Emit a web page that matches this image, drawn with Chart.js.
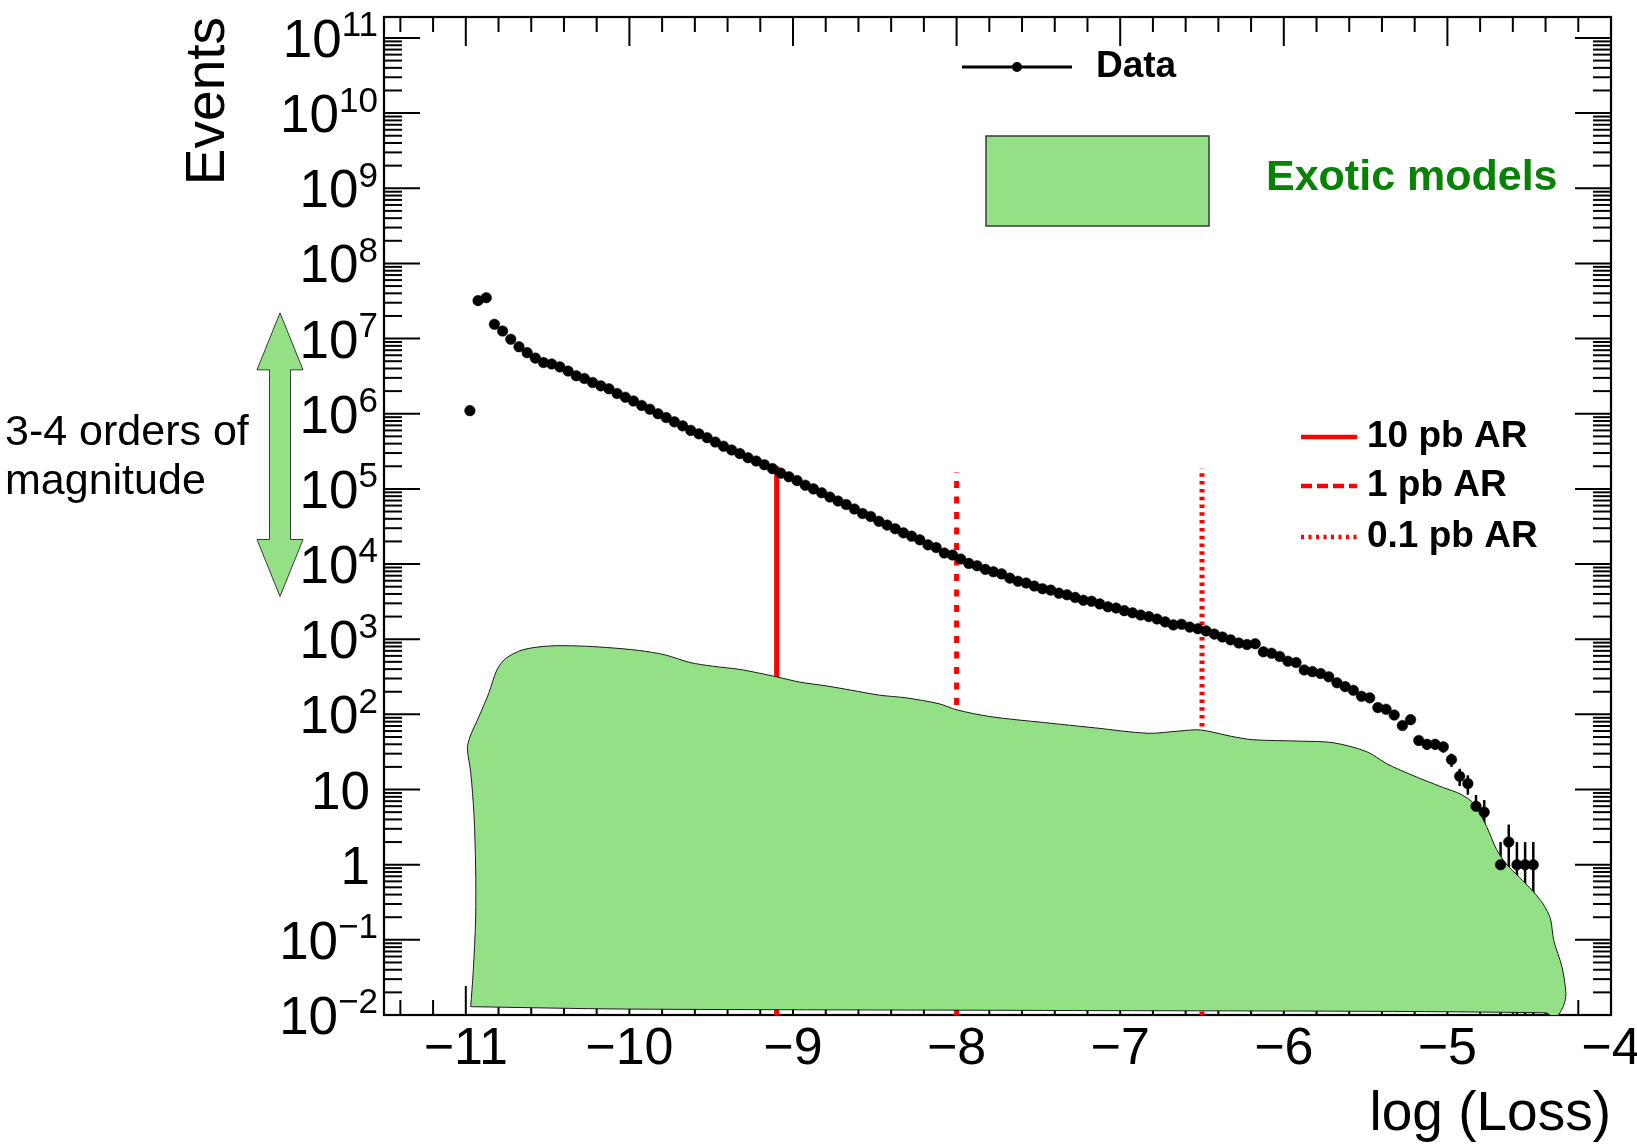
<!DOCTYPE html>
<html>
<head>
<meta charset="utf-8">
<title>Events vs log(Loss)</title>
<script src="https://cdn.jsdelivr.net/npm/chart.js@4.4.1/dist/chart.umd.min.js"></script>
<style>
  html, body { margin: 0; padding: 0; background: #fff; }
  #wrap { width: 1637px; height: 1144px; }
</style>
</head>
<body>
<div id="wrap"><canvas id="lossChart" width="1637" height="1144"></canvas></div>
<script>
// log(Loss) bin centres (bins of 0.05)
const binCenters = [
  -10.975, -10.925, -10.875, -10.825, -10.775, -10.725, -10.675, -10.625, -10.575, -10.525,
  -10.475, -10.425, -10.375, -10.325, -10.275, -10.225, -10.175, -10.125, -10.075, -10.025,
  -9.975, -9.925, -9.875, -9.825, -9.775, -9.725, -9.675, -9.625, -9.575, -9.525,
  -9.475, -9.425, -9.375, -9.325, -9.275, -9.225, -9.175, -9.125, -9.075, -9.025,
  -8.975, -8.925, -8.875, -8.825, -8.775, -8.725, -8.675, -8.625, -8.575, -8.525,
  -8.475, -8.425, -8.375, -8.325, -8.275, -8.225, -8.175, -8.125, -8.075, -8.025,
  -7.975, -7.925, -7.875, -7.825, -7.775, -7.725, -7.675, -7.625, -7.575, -7.525,
  -7.475, -7.425, -7.375, -7.325, -7.275, -7.225, -7.175, -7.125, -7.075, -7.025,
  -6.975, -6.925, -6.875, -6.825, -6.775, -6.725, -6.675, -6.625, -6.575, -6.525,
  -6.475, -6.425, -6.375, -6.325, -6.275, -6.225, -6.175, -6.125, -6.075, -6.025,
  -5.975, -5.925, -5.875, -5.825, -5.775, -5.725, -5.675, -5.625, -5.575, -5.525,
  -5.475, -5.425, -5.375, -5.325, -5.275, -5.225, -5.175, -5.125, -5.075, -5.025,
  -4.975, -4.925, -4.875, -4.825, -4.775, -4.725, -4.675, -4.625, -4.575, -4.525,
  -4.475
];

// Data events per bin
const dataEvents = [
  1.1e6, 3.2e7, 3.5e7, 1.55e7, 1.26e7, 9.8e6, 7.8e6, 6.5e6, 5.5e6, 4.8e6,
  4.6e6, 4.2e6, 3.7e6, 3.2e6, 2.95e6, 2.6e6, 2.35e6, 2.15e6, 1.86e6, 1.66e6,
  1.48e6, 1.29e6, 1.15e6, 1.0e6, 8.9e5, 7.8e5, 6.9e5, 6.0e5, 5.4e5, 4.8e5,
  4.2e5, 3.7e5, 3.3e5, 2.95e5, 2.6e5, 2.35e5, 2.1e5, 1.86e5, 1.62e5, 1.45e5,
  1.29e5, 1.12e5, 1.0e5, 8.9e4, 7.8e4, 6.9e4, 6.2e4, 5.4e4, 4.7e4, 4.3e4,
  3.7e4, 3.3e4, 2.95e4, 2.6e4, 2.35e4, 2.1e4, 1.8e4, 1.66e4, 1.4e4, 1.32e4,
  1.17e4, 1.02e4, 9500, 8500, 7900, 7400, 6500, 5900, 5600, 5100,
  4700, 4500, 4100, 3900, 3600, 3300, 3200, 2950, 2700, 2600,
  2400, 2250, 2100, 2000, 1860, 1700, 1550, 1580, 1450, 1380,
  1290, 1170, 1070, 980, 890, 850, 870, 680, 650, 590,
  510, 490, 390, 370, 350, 316, 263, 234, 209, 174,
  166, 123, 117, 98, 71, 85, 45, 40, 40, 37,
  25, 15, 12, 6, 5, null, 1, 2, 1, 1,
  1
];

// outline of the "Exotic models" envelope (closed shape)
const exoticX = [
  -10.97, -10.955, -10.94, -10.94, -10.95, -10.97, -10.99, -10.975, -10.92, -10.86,
  -10.81, -10.755, -10.65, -10.49, -10.31, -10.14, -9.94, -9.78, -9.63, -9.49,
  -9.33, -9.21, -9.10, -8.96, -8.80, -8.64, -8.47, -8.31, -8.105, -8.0,
  -7.79, -7.47, -7.15, -6.83, -6.64, -6.51, -6.32, -6.19, -5.90, -5.70,
  -5.495, -5.37, -5.23, -5.03, -4.92, -4.84, -4.76, -4.70, -4.64, -4.56,
  -4.48, -4.415, -4.37, -4.35, -4.30, -4.276, -4.29, -4.34, -4.40, -7.47,
  -10.02, -10.97
];
const exoticY = [
  0.0129, 0.037, 0.19, 0.93, 4.6, 17, 35, 50, 93, 190,
  390, 556, 724, 813, 813, 776, 708, 617, 490, 437,
  398, 355, 316, 269, 240, 209, 180, 166, 138, 115,
  93, 78, 66, 56, 60, 62, 51, 46, 44, 42,
  32, 22, 16, 10.7, 8.7, 6.5, 3.2, 1.6, 1.02, 0.68,
  0.45, 0.30, 0.19, 0.098, 0.044, 0.0195, 0.0133, 0.0092, 0.0107, 0.0115,
  0.012, 0.0129
];

// anomaly-region thresholds
const arLabels = ['10 pb AR', '1 pb AR', '0.1 pb AR'];
const arX = [-9.1, -8.0, -6.5];
const arTop = [2.0e5, 1.68e5, 1.86e5];
const arDash = [[], [7, 8.5], [3.5, 4.3]];

// axis ticks
const xTickValues = [-11, -10, -9, -8, -7, -6, -5, -4];
const xTickLabels = ['\u221211', '\u221210', '\u22129', '\u22128', '\u22127', '\u22126', '\u22125', '\u22124'];
const yExponents = [-2, -1, 0, 1, 2, 3, 4, 5, 6, 7, 8, 9, 10, 11];

// the "3-4 orders of magnitude" arrow spans these event counts
const arrowSpan = [2.2e7, 3.7e3];

const FONT = '"Liberation Sans", Arial, Helvetica, sans-serif';
const GREEN = '#93e087';
const RED = '#ff0000';

function line(ctx, x1, y1, x2, y2) {
  ctx.beginPath();
  ctx.moveTo(x1, y1);
  ctx.lineTo(x2, y2);
  ctx.stroke();
}

// frame, inside ticks and error bars (under the datasets)
const framePlugin = {
  id: 'framePlugin',
  beforeDatasetsDraw(chart) {
    const { ctx, chartArea: a, scales: { x, y } } = chart;
    ctx.save();
    ctx.strokeStyle = '#000';
    ctx.lineWidth = 2;
    for (let k = -57; k <= -20; k++) {
      const px = x.getPixelForValue(k / 5);
      const len = k % 5 === 0 ? 29 : 15;
      line(ctx, px, a.bottom, px, a.bottom - len);
      line(ctx, px, a.top, px, a.top + len);
    }
    yExponents.forEach(n => {
      for (let m = 1; m <= 9; m++) {
        const v = m * Math.pow(10, n);
        if (v > y.max) break;
        const py = y.getPixelForValue(v);
        const len = m === 1 ? 36 : 18;
        line(ctx, a.left, py, a.left + len, py);
        line(ctx, a.right, py, a.right - len, py);
      }
    });

    // error bars sqrt(N)
    ctx.lineWidth = 2.5;
    binCenters.forEach((c, i) => {
      const v = dataEvents[i];
      if (!v) return;
      const e = Math.sqrt(v);
      const px = x.getPixelForValue(c);
      const top = Math.max(a.top, y.getPixelForValue(v + e));
      const bot = v - e > 0 ? Math.min(a.bottom, y.getPixelForValue(v - e)) : a.bottom;
      line(ctx, px, top, px, bot);
    });

    ctx.lineWidth = 2.2;
    ctx.strokeRect(a.left, a.top, a.right - a.left, a.bottom - a.top);
    ctx.restore();
  }
};

function drawPower(ctx, n, xRight, yMid) {
  const base = 53, expSize = 35;
  ctx.fillStyle = '#000';
  ctx.textBaseline = 'alphabetic';
  ctx.textAlign = 'right';
  if (n === 0 || n === 1) {
    ctx.font = `${base}px ${FONT}`;
    ctx.fillText(n === 0 ? '1' : '10', xRight - 8, yMid + base * 0.358);
    return;
  }
  const exp = n < 0 ? '\u2212' + (-n) : String(n);
  ctx.font = `${expSize}px ${FONT}`;
  const ew = ctx.measureText(exp).width;
  ctx.fillText(exp, xRight, yMid - base * 0.03);
  ctx.font = `${base}px ${FONT}`;
  ctx.fillText('10', xRight - ew, yMid + base * 0.358);
}

// labels, titles, legend and annotation
const labelPlugin = {
  id: 'labelPlugin',
  afterDraw(chart) {
    const { ctx, chartArea: a, scales: { x, y } } = chart;
    ctx.save();

    // double arrow
    const ax = 280, top = y.getPixelForValue(arrowSpan[0]), bot = y.getPixelForValue(arrowSpan[1]);
    const hw = 23, hl = 57, sw = 10.5;
    ctx.beginPath();
    ctx.moveTo(ax, top);
    ctx.lineTo(ax + hw, top + hl);
    ctx.lineTo(ax + sw, top + hl);
    ctx.lineTo(ax + sw, bot - hl);
    ctx.lineTo(ax + hw, bot - hl);
    ctx.lineTo(ax, bot);
    ctx.lineTo(ax - hw, bot - hl);
    ctx.lineTo(ax - sw, bot - hl);
    ctx.lineTo(ax - sw, top + hl);
    ctx.lineTo(ax - hw, top + hl);
    ctx.closePath();
    ctx.fillStyle = GREEN;
    ctx.fill();
    ctx.strokeStyle = '#3a3a3a';
    ctx.lineWidth = 1;
    ctx.stroke();

    ctx.fillStyle = '#000';
    ctx.font = `43px ${FONT}`;
    ctx.textAlign = 'left';
    ctx.textBaseline = 'middle';
    ctx.fillText('3-4 orders of', 5, 433);
    ctx.fillText('magnitude', 5, 482);

    // y tick labels
    yExponents.forEach(n => drawPower(ctx, n, 378, y.getPixelForValue(Math.pow(10, n))));

    // x tick labels
    ctx.font = `52px ${FONT}`;
    ctx.textAlign = 'center';
    ctx.textBaseline = 'middle';
    ctx.fillStyle = '#000';
    xTickValues.forEach((v, i) => ctx.fillText(xTickLabels[i], x.getPixelForValue(v), 1050));

    // axis titles
    ctx.font = `55px ${FONT}`;
    ctx.textAlign = 'right';
    ctx.textBaseline = 'alphabetic';
    ctx.fillText('log (Loss)', a.right, 1130);
    ctx.save();
    ctx.translate(209, a.top);
    ctx.rotate(-Math.PI / 2);
    ctx.textBaseline = 'middle';
    ctx.fillText('Events', 0, 0);
    ctx.restore();

    // legend: Data
    ctx.strokeStyle = '#000';
    ctx.lineWidth = 3;
    line(ctx, 962, 67, 1072, 67);
    ctx.beginPath();
    ctx.arc(1017, 67, 5, 0, Math.PI * 2);
    ctx.fill();
    ctx.font = `bold 37px ${FONT}`;
    ctx.textAlign = 'left';
    ctx.textBaseline = 'middle';
    ctx.fillText('Data', 1096, 67);

    // legend: Exotic models
    ctx.fillStyle = GREEN;
    ctx.fillRect(986, 136, 223, 90);
    ctx.strokeStyle = '#3a3a3a';
    ctx.lineWidth = 1.5;
    ctx.strokeRect(986, 136, 223, 90);
    ctx.fillStyle = '#078207';
    ctx.font = `bold 43px ${FONT}`;
    ctx.fillText('Exotic models', 1266, 178);

    // legend: AR lines
    const ly = [437, 486, 537];
    const legDash = [[], [11, 5], [3, 4.5]];
    arLabels.forEach((lab, i) => {
      ctx.strokeStyle = RED;
      ctx.lineWidth = 4.5;
      ctx.setLineDash(legDash[i]);
      line(ctx, 1301, ly[i], 1357, ly[i]);
      ctx.setLineDash([]);
      ctx.fillStyle = '#000';
      ctx.font = `bold 37px ${FONT}`;
      ctx.fillText(lab, 1367, ly[i]);
    });

    ctx.restore();
  }
};

const datasets = [
  {
    label: 'Data',
    data: binCenters.map((c, i) => ({ x: c, y: dataEvents[i] })),
    showLine: false,
    pointRadius: 5.3,
    pointBackgroundColor: '#000',
    pointBorderColor: '#000',
    pointBorderWidth: 0.5,
    order: 0
  },
  {
    label: 'Exotic models',
    data: exoticX.map((v, i) => ({ x: v, y: exoticY[i] })),
    borderColor: '#1a1a1a',
    borderWidth: 1,
    backgroundColor: GREEN,
    fill: 'shape',
    tension: 0.3,
    pointRadius: 0,
    order: 1
  }
];

arLabels.forEach((lab, i) => {
  datasets.push({
    label: lab,
    data: [{ x: arX[i], y: 0.01 }, { x: arX[i], y: arTop[i] }],
    borderColor: RED,
    borderWidth: 5,
    borderDash: arDash[i],
    borderCapStyle: 'butt',
    pointRadius: 0,
    fill: false,
    order: 2
  });
});

new Chart(document.getElementById('lossChart').getContext('2d'), {
  type: 'line',
  data: { datasets },
  options: {
    responsive: false,
    animation: false,
    devicePixelRatio: 1,
    layout: { padding: { left: 384, right: 26, top: 17, bottom: 129 } },
    plugins: {
      legend: { display: false },
      tooltip: { enabled: false }
    },
    scales: {
      x: { type: 'linear', min: -11.5, max: -4, display: false },
      y: { type: 'logarithmic', min: 0.01, max: 1.9e11, display: false }
    }
  },
  plugins: [framePlugin, labelPlugin]
});
</script>
</body>
</html>
